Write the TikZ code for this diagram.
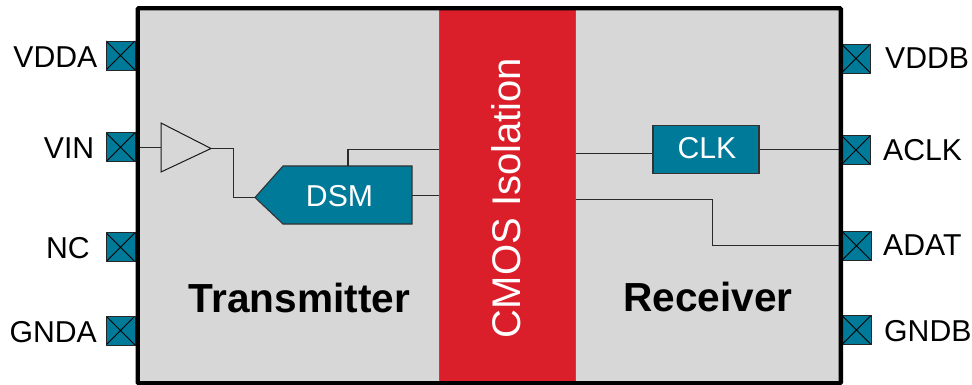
\documentclass[tikz,border=0pt]{standalone}
\usepackage{fontspec}
\setmainfont{Liberation Sans}
\definecolor{tiTeal}{HTML}{007A99}
\definecolor{tiRed}{HTML}{DA1F2B}
\definecolor{panelGray}{HTML}{D7D7D7}
\definecolor{wireGray}{HTML}{2A2A2A}
\tikzset{
  padbox/.style={draw=black!85,line width=0.9pt,fill=tiTeal,inner sep=0pt,minimum width=29pt,minimum height=29pt,
    path picture={\draw[black,line width=0.9pt] (path picture bounding box.north west)--(path picture bounding box.south east)
      (path picture bounding box.south west)--(path picture bounding box.north east);}},
  padtext/.style={font=\fontsize{30.2}{32}\selectfont,text=black,inner sep=0pt},
  wire/.style={draw=wireGray,line width=1.1pt},
  bluebox/.style={draw=black!80,line width=1.1pt,fill=tiTeal},
  whitetext/.style={font=\fontsize{30.2}{32}\selectfont,text=white,inner sep=0pt},
  boldtext/.style={font=\fontsize{40.6}{44}\selectfont\bfseries,text=black,inner sep=0pt}
}
\begin{document}
\begin{tikzpicture}[x=1pt,y=-1pt]
\useasboundingbox (0,0) rectangle (972,385);
% panels
\fill[panelGray,draw=black!40,line width=0.8pt] (138,8.5) rectangle (841,383);
\node[fill=tiRed,draw=black!60,line width=0.6pt,minimum width=136pt,minimum height=373pt,inner sep=0pt] (iso) at (507.5,196) {};
\node[rotate=90,font=\fontsize{40}{44}\selectfont,text=white,inner sep=0pt] (isotext) at (506.5,198) {CMOS Isolation};
% pads
\node[padbox] (vdda) at (120.5,55.5) {};
\node[padbox] (vin) at (120.5,147.3) {};
\node[padbox] (nc) at (120.5,247.2) {};
\node[padbox] (gnda) at (120.5,330.5) {};
\node[padbox] (vddb) at (856,58.5) {};
\node[padbox] (aclk) at (856,150) {};
\node[padbox] (adat) at (856.5,245.7) {};
\node[padbox] (gndb) at (856.5,330) {};
% pad labels
\node[padtext,anchor=east] (lvdda) at (97.5,57) {VDDA};
\node[padtext,anchor=east] (lvin) at (94.5,148.5) {VIN};
\node[padtext,anchor=east] (lnc) at (90,248.5) {NC};
\node[padtext,anchor=east] (lgnda) at (97,332) {GNDA};
\node[padtext,anchor=west] (lvddb) at (885,58.5) {VDDB};
\node[padtext,anchor=west] (laclk) at (883,150) {ACLK};
\node[padtext,anchor=west] (ladat) at (883,245.5) {ADAT};
\node[padtext,anchor=west] (lgndb) at (884,331) {GNDB};
% buffer
\coordinate (bufin) at (161,147.5);
\coordinate (bufout) at (211,148.5);
\draw[draw=black!90,line width=1pt,fill=panelGray] (161,123) -- (bufout) -- (161,172) -- cycle;
% DSM
\coordinate (dsmtip) at (255,197.5);
\coordinate (dsmtop) at (348,166);
\coordinate (dsmup) at (348,149.5);
\coordinate (dsmout) at (412,195.5);
\draw[bluebox] (dsmtip) -- (283,166) -- (412,166) -- (412,224) -- (283,224) -- cycle;
\node[whitetext] (dsm) at (339.5,196.5) {DSM};
% CLK
\node[bluebox,minimum width=106pt,minimum height=48pt,inner sep=0pt] (clk) at (706,149.5) {};
\node[whitetext] (clktext) at (707,148.5) {CLK};
% connectors
\draw[wire] (vin.east |- bufin) -- (bufin);
\draw[wire] (bufout) -- (233.5,148.5) -- (233.5,197.5) -- (dsmtip);
\draw[wire] (dsmtop) -- (dsmup) -- (iso.west |- dsmup);
\draw[wire] (dsmout) -- (iso.west |- dsmout);
\draw[wire] (iso.east |- 0,153.5) -- (clk.west |- 0,153.5);
\draw[wire] (clk.east) -- (aclk.west |- clk.east);
\draw[wire] (iso.east |- 0,199.5) -- (712.5,199.5) -- (712.5,245.5) -- (adat.west |- 0,245.5);
% frame
\draw[black,line width=4.4pt,rounded corners=1pt] (137.7,8.3) rectangle (840.8,383.2);
% titles
\node[boldtext] (tx) at (299.5,298) {Transmitter};
\node[boldtext] (rx) at (708,297) {Receiver};
\end{tikzpicture}
\end{document}
